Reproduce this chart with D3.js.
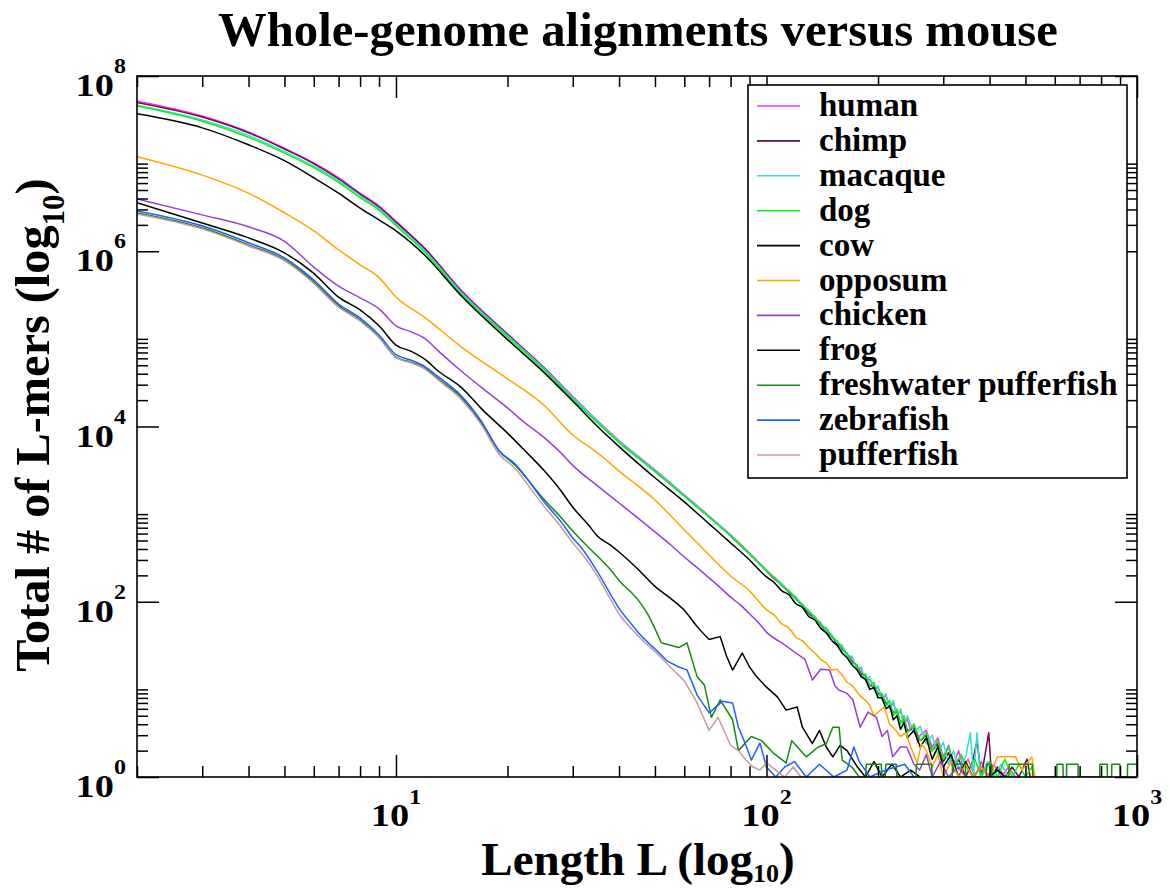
<!DOCTYPE html>
<html><head><meta charset="utf-8">
<script src="https://cdn.jsdelivr.net/npm/d3@7"></script>
<style>
body{margin:0;background:#fff}
svg{display:block}
text{font-family:"Liberation Serif","Times New Roman",serif;font-weight:bold;fill:#000}
</style>
</head><body>
<svg id="chart" width="1169" height="888"></svg>
<script>
// ---------------- data ----------------
const titleText = "Whole-genome alignments versus mouse";
const seriesNames = ["human","chimp","macaque","dog","cow","opposum","chicken","frog","freshwater pufferfish","zebrafish","pufferfish"];
const seriesColors = ["#ff33ff","#6e0a48","#30e0d8","#11ee11","#000000","#ffa500","#9440d8","#000000","#138a13","#2060ff","#c49a9a"];

const human = [[2,5.2e7],[3,3.5e7],[4,2.3e7],[5,1.5e7],[6,1.02e7],[7,6.9e6],[8,4.6e6],[9,3.3e6],[10,2.2e6],[12,1.07e6],[15,3.6e5],[20,1.14e5],[25,4.8e4],[30,2.2e4],[35,1.16e4],[40,6.9e3],[50,3.2e3],[60,1.66e3],[70,950],[80,580],[90,360],[100,230],[105,190],[110,158],[115,132],[120,112],[125,92],[130,78],[135,66],[140,56],[145,48],[150,41],[155,34],[160,31],[165,25],[170,23],[175,18],[180,17],[185,13],[190,13],[195,10],[200,10.5],[205,8],[210,8.5],[215,6],[220,7],[225,5],[230,5.8],[235,4],[240,4.6],[245,3.4],[250,4],[256,2.5],[260,3],[270,3.4],[280,2.2],[290,2.8],[300,1.7],[310,2.3],[320,1.4],[330,2],[340,1.3],[350,1.6],[365,1],[380,1.5],[395,1],[410,1.4],[430,1],[450,1.3],[470,1]];
const chimp = [[2,5.0e7],[3,3.4e7],[4,2.25e7],[5,1.47e7],[6,1.0e7],[7,6.7e6],[8,4.5e6],[9,3.2e6],[10,2.15e6],[12,1.05e6],[15,3.5e5],[20,1.12e5],[25,4.7e4],[30,2.15e4],[35,1.13e4],[40,6.7e3],[50,3.1e3],[60,1.62e3],[70,930],[80,565],[90,350],[100,225],[105,182],[110,155],[115,128],[120,108],[125,90],[130,74],[135,64],[140,55],[145,45],[150,40],[155,33],[160,29],[165,25],[170,21],[175,19],[180,15],[185,14],[190,11],[195,11],[200,9],[205,8.5],[210,7],[215,6.5],[220,5.5],[225,5.5],[230,4.2],[235,4.5],[240,3.4],[250,3.6],[260,2.6],[270,3],[280,2],[290,2.4],[300,1.5],[310,1.9],[320,1.2],[330,1.6],[345,1],[360,1.5],[370,2.6],[380,1],[398,3.2],[405,1],[420,1.3],[440,1],[460,1.3],[480,1],[505,1.6],[515,1]];
const macaque = [[2,4.65e7],[3,3.15e7],[4,2.1e7],[5,1.37e7],[6,9.4e6],[7,6.4e6],[8,4.3e6],[9,3.05e6],[10,2.03e6],[12,1.0e6],[15,3.4e5],[20,1.09e5],[25,4.65e4],[30,2.15e4],[35,1.14e4],[40,6.8e3],[50,3.15e3],[60,1.64e3],[70,940],[80,575],[90,355],[100,228],[105,186],[110,160],[115,130],[120,114],[125,90],[130,80],[135,64],[140,58],[145,46],[150,42],[155,34],[160,32],[165,24],[170,24],[175,17],[180,18],[185,13],[190,14],[195,10],[200,11],[205,7.5],[210,9],[215,6],[220,7.5],[225,4.8],[230,6],[235,3.8],[240,5],[250,3.2],[260,3.8],[270,2.4],[280,3],[290,1.8],[300,2.5],[310,1.4],[320,2],[330,1.2],[345,1.7],[355,3.2],[362,1],[370,3.2],[378,1],[395,1.5],[410,1],[430,1.4],[450,1]];
const dog = [[2,4.55e7],[3,3.05e7],[4,2.0e7],[5,1.32e7],[6,9.0e6],[7,6.1e6],[8,4.1e6],[9,2.95e6],[10,1.96e6],[12,9.6e5],[15,3.25e5],[20,1.05e5],[25,4.5e4],[30,2.05e4],[35,1.1e4],[40,6.6e3],[50,3.05e3],[60,1.6e3],[70,920],[80,565],[90,350],[100,225],[105,188],[110,152],[115,134],[120,106],[125,94],[130,76],[135,68],[140,54],[145,50],[150,39],[155,36],[160,28],[165,26],[170,20],[175,19],[180,14],[185,15],[190,11],[195,12],[200,8.5],[205,9],[210,6.5],[215,7.5],[220,5],[225,6],[230,4],[235,5],[240,3.2],[250,4],[260,2.6],[270,3.2],[280,2],[290,2.6],[300,1.6],[310,2.2],[320,1.3],[335,1.8],[350,1.2],[365,1.6],[380,1],[400,1.5],[420,1],[440,1.6],[460,1],[480,1.4],[500,1],[520,1.3],[530,1]];
const cow = [[2,3.7e7],[3,2.56e7],[4,1.64e7],[5,1.08e7],[6,6.9e6],[7,4.6e6],[8,3.1e6],[9,2.28e6],[10,1.71e6],[12,8.9e5],[15,3.1e5],[20,9.8e4],[25,4.2e4],[30,1.95e4],[35,1.0e4],[40,5.9e3],[50,2.6e3],[60,1.38e3],[70,775],[80,470],[90,300],[100,192],[105,165],[110,133],[115,120],[120,95],[125,86],[130,68],[135,62],[140,50],[145,44],[150,36],[155,32],[160,26],[165,23],[170,19],[175,17],[180,14],[185,13],[190,10],[195,10.5],[200,8],[205,8],[210,6],[215,6.5],[220,4.5],[225,5],[230,3.5],[235,4.2],[240,2.8],[250,3.4],[260,2.2],[270,2.8],[280,1.6],[290,2.2],[300,1.3],[315,1.8],[330,1],[345,1.5],[360,1],[380,1.3],[400,1],[420,1.2],[440,1]];
const opposum = [[2,1.2e7],[3,7.4e6],[4,4.6e6],[5,2.75e6],[6,1.71e6],[7,1.04e6],[8,7.0e5],[9,5.0e5],[10,3.0e5],[12,1.74e5],[15,8.1e4],[20,3.5e4],[25,1.77e4],[30,8.0e3],[35,5.0e3],[40,3.1e3],[50,1.45e3],[60,660],[70,342],[80,197],[90,133],[100,81],[105,70],[110,56],[115,50],[120,39],[125,36],[130,30],[135,26],[140,22],[145,20],[150,16.6],[155,17],[160,14.6],[165,12],[170,11.2],[175,9.5],[180,8.2],[185,7.5],[190,6.6],[195,5],[200,5.5],[208,6.3],[215,4],[222,3.5],[230,2.9],[238,3.2],[245,2.2],[255,1.45],[262,2.4],[270,2],[280,1.3],[290,1.8],[300,1],[315,1.5],[330,1],[345,1.4],[360,1],[380,1.3],[400,1],[420,1.7],[470,1.7],[490,1.2],[520,1.7],[530,1]];
const chicken = [[2,3.96e6],[3,2.6e6],[4,1.9e6],[5,1.3e6],[6,6.6e5],[7,4.0e5],[8,2.94e5],[9,2.2e5],[10,1.41e5],[11,1.2e5],[12,1.0e5],[13,7.3e4],[15,4.3e4],[17,2.8e4],[20,1.63e4],[22,1.15e4],[25,7.6e3],[28,4.9e3],[30,3.6e3],[35,2.1e3],[40,1.34e3],[45,900],[50,627],[55,450],[60,324],[65,245],[70,187],[75,145],[80,113],[85,92],[90,73],[95,58],[100,45],[110,34],[120,26],[127,22],[133,12.8],[140,17],[148,16.6],[153,11],[157,9.8],[165,9],[171,7.6],[179,3.7],[188,5.5],[198,4.8],[205,2.9],[212,3.4],[219,1.7],[230,2.2],[239,2.2],[250,1.4],[259,1.2],[270,1.8],[280,1],[295,1.5],[310,1],[330,1.3],[345,1]];
const frog = [[2,3.57e6],[3,2.1e6],[4,1.42e6],[5,9.6e5],[6,5.6e5],[7,3.0e5],[8,2.14e5],[9,1.41e5],[10,8.5e4],[11,7.2e4],[12,5.8e4],[13,4.3e4],[15,2.8e4],[17,1.6e4],[20,8.4e3],[22,5.6e3],[25,3.2e3],[28,1.8e3],[30,1.2e3],[33,760],[35,560],[38,440],[40,370],[45,235],[50,150],[55,110],[60,80],[65,52],[70,37],[75,40],[78,24],[81,16.6],[86,26],[90,18],[94,14],[100,10.6],[107,8.2],[113,5.8],[121,6.3],[125,3.7],[133,2.4],[139,3.4],[145,2.2],[151,1.7],[158,2.3],[165,2.0],[176,1.3],[185,1],[195,1.5],[205,1],[218,1.4],[230,1],[245,1.2],[260,1]];
const freshwaterPufferfish = [[2,2.74e6],[3,1.85e6],[4,1.18e6],[5,8.0e5],[6,4.5e5],[7,2.4e5],[8,1.65e5],[9,1.05e5],[10,6.2e4],[11,5.4e4],[12,4.6e4],[13,3.5e4],[15,2.15e4],[17,1.1e4],[19,5.2e3],[21,3.6e3],[23,2.3e3],[25,1.5e3],[28,900],[30,640],[32,480],[35,330],[38,230],[40,175],[45,105],[48,70],[52,34],[58,30],[61,34],[65,13.9],[68,11.2],[71,4.8],[75,7.6],[81,4.5],[84,2.0],[91,2.9],[97,2.6],[104,1.9],[113,1.45],[117,2.6],[128,1.7],[138,2.2],[145,2.4],[151,3.7],[157,3.7],[160,1.56],[170,1.3],[178,1],[185,1],[186,1.4],[204,1.4],[205,1],[209,1],[210,1.4],[224,1.4],[225,1],[253,1],[254,1.4],[279,1.4],[280,1],[317,1],[318,1.4],[344,1.4],[345,1],[392,1],[393,1.4],[405,1.4],[406,1],[451,1],[452,1.4],[522,1.4],[523,1],[607,1],[608,1.4],[631,1.4],[632,1],[645,1],[646,1.4],[693,1.4],[694,1],[793,1],[794,1.4],[831,1.4],[832,1],[854,1],[855,1.4],[899,1.4],[900,1],[942,1],[943,1.4],[1000,1.4]];
const zebrafish = [[2,2.89e6],[3,1.95e6],[4,1.25e6],[5,8.4e5],[6,4.7e5],[7,2.5e5],[8,1.74e5],[9,1.11e5],[10,6.6e4],[11,5.7e4],[12,4.8e4],[13,3.7e4],[15,2.25e4],[17,1.15e4],[19,5.3e3],[21,3.7e3],[23,2.3e3],[25,1.41e3],[28,800],[30,535],[32,390],[35,219],[38,120],[40,84],[43,57],[45,45],[50,29],[54,21],[58,18],[61,16.7],[65,8.6],[70,5.4],[76,7.3],[81,7.0],[84,3.7],[88,2.3],[91,1.56],[96,2.44],[100,1.3],[106,1],[112,1.3],[119,1.5],[128,1],[139,1.4],[152,1],[165,1.2],[172,2.2],[178,1.5],[190,1],[210,1.2],[236,1.4],[250,1]];
const pufferfish = [[2,2.67e6],[3,1.8e6],[4,1.15e6],[5,7.8e5],[6,4.3e5],[7,2.3e5],[8,1.6e5],[9,1.03e5],[10,6.1e4],[11,5.3e4],[12,4.5e4],[13,3.4e4],[15,2.05e4],[17,1.05e4],[19,4.8e3],[21,3.3e3],[23,2.0e3],[25,1.25e3],[28,700],[30,470],[32,340],[35,195],[38,105],[40,73],[45,41],[50,27],[55,18],[60,12.5],[65,7.0],[70,3.4],[74,4.8],[80,2.3],[84,2.0],[88,1.56],[92,1.3],[96,1.2],[100,1.45],[106,1.2],[112,1],[118,1.3],[124,1]];

const seriesValues = [human, chimp, macaque, dog, cow, opposum, chicken, frog, freshwaterPufferfish, zebrafish, pufferfish];

const xMajorTicks = [10, 100, 1000];
const xMajorExp = ["1", "2", "3"];
const xMinorTicks = [2,3,4,5,6,7,8,9,20,30,40,50,60,70,80,90,200,300,400,500,600,700,800,900];
const yMajorTicks = [1, 1e2, 1e4, 1e6, 1e8];
const yMajorExp = ["0", "2", "4", "6", "8"];
const yMinorTicks = [2,3,4,5,6,7,8,9,10, 200,300,400,500,600,700,800,900,1000, 2e4,3e4,4e4,5e4,6e4,7e4,8e4,9e4,1e5, 2e6,3e6,4e6,5e6,6e6,7e6,8e6,9e6,1e7];

// ---------------- layout ----------------
const L = 137, R = 1137, T = 76, B = 777;
const svg = d3.select("#chart");

const x = d3.scaleLog().domain([2, 1000]).range([L, R]);
const y = d3.scaleLog().domain([1, 1e8]).range([B, T]);

svg.append("defs").append("clipPath").attr("id", "clip")
  .append("rect").attr("x", L).attr("y", T).attr("width", R - L).attr("height", B - T);

// lines: smooth body (monotone) + raw noisy tail (linear)
const smoothLine = d3.line().x(d => x(d[0])).y(d => y(d[1])).curve(d3.curveMonotoneX);
const rawLine = d3.line().x(d => x(d[0])).y(d => y(d[1]));
const lines = svg.append("g").attr("clip-path", "url(#clip)");
seriesValues.forEach((s, i) => {
  let k = s.findIndex(d => d[1] < 40);
  if (k < 0) k = s.length - 1;
  const head = s.slice(0, k + 1), tail = s.slice(k);
  [[head, smoothLine], [tail, rawLine]].forEach(([part, gen]) => {
    lines.append("path").datum(part)
      .attr("d", gen)
      .attr("fill", "none")
      .attr("stroke", seriesColors[i])
      .attr("stroke-width", 1.5)
      .attr("stroke-linejoin", "round");
  });
});

// ticks (inward on all four sides)
function ticks(axisGen, tr, size, vals) {
  const g = svg.append("g").attr("transform", tr)
    .call(axisGen.tickValues(vals).tickSize(size).tickFormat(""));
  g.select(".domain").remove();
  g.selectAll(".tick line").attr("stroke", "#000").attr("stroke-width", 1.5);
}
ticks(d3.axisBottom(x), `translate(0,${B})`, -22, xMajorTicks);
ticks(d3.axisBottom(x), `translate(0,${B})`, -11, xMinorTicks);
ticks(d3.axisTop(x), `translate(0,${T})`, -22, xMajorTicks);
ticks(d3.axisTop(x), `translate(0,${T})`, -11, xMinorTicks);
ticks(d3.axisLeft(y), `translate(${L},0)`, -22, yMajorTicks);
ticks(d3.axisLeft(y), `translate(${L},0)`, -11, yMinorTicks);
ticks(d3.axisRight(y), `translate(${R},0)`, -22, yMajorTicks);
ticks(d3.axisRight(y), `translate(${R},0)`, -11, yMinorTicks);

svg.append("rect").attr("x", L).attr("y", T).attr("width", R - L).attr("height", B - T)
  .attr("fill", "none").attr("stroke", "#000").attr("stroke-width", 1.6);

// tick labels
xMajorTicks.forEach((v, i) => {
  const t = svg.append("g").attr("transform", `translate(${x(v)},826) scale(1.2,1)`)
    .append("text").attr("text-anchor", "middle").attr("font-size", 32);
  t.append("tspan").text("10");
  t.append("tspan").attr("dy", -22).attr("font-size", 20).text(xMajorExp[i]);
});
yMajorTicks.forEach((v, i) => {
  const t = svg.append("g").attr("transform", `translate(126,${y(v) + 20}) scale(1.2,1)`)
    .append("text").attr("text-anchor", "end").attr("font-size", 32);
  t.append("tspan").text("10");
  t.append("tspan").attr("dy", -23).attr("font-size", 20).text(yMajorExp[i]);
});

// title
svg.append("text").attr("x", 638).attr("y", 46).attr("text-anchor", "middle")
  .attr("font-size", 48.7).text(titleText);

// axis titles
const xt = svg.append("text").attr("x", 638).attr("y", 875).attr("text-anchor", "middle").attr("font-size", 47);
xt.append("tspan").text("Length L (log");
xt.append("tspan").attr("dy", 7).attr("font-size", 26).text("10");
xt.append("tspan").attr("dy", -7).text(")");

const yt = svg.append("text").attr("transform", "translate(49,425) rotate(-90)")
  .attr("text-anchor", "middle").attr("font-size", 48.3);
yt.append("tspan").text("Total # of L-mers (log");
yt.append("tspan").attr("dy", 15).attr("font-size", 31).text("10");
yt.append("tspan").attr("dy", -15).text(")");

// legend
const lg = svg.append("g");
lg.append("rect").attr("x", 748).attr("y", 85).attr("width", 379).attr("height", 393)
  .attr("fill", "#fff").attr("stroke", "#000").attr("stroke-width", 1.6);
seriesNames.forEach((n, i) => {
  const ly = 106 + i * 34.9;
  lg.append("line").attr("x1", 757).attr("x2", 800).attr("y1", ly).attr("y2", ly)
    .attr("stroke", seriesColors[i]).attr("stroke-width", 1.6);
  lg.append("text").attr("x", 819).attr("y", ly + 10).attr("font-size", 33).text(n);
});
</script>
</body></html>
